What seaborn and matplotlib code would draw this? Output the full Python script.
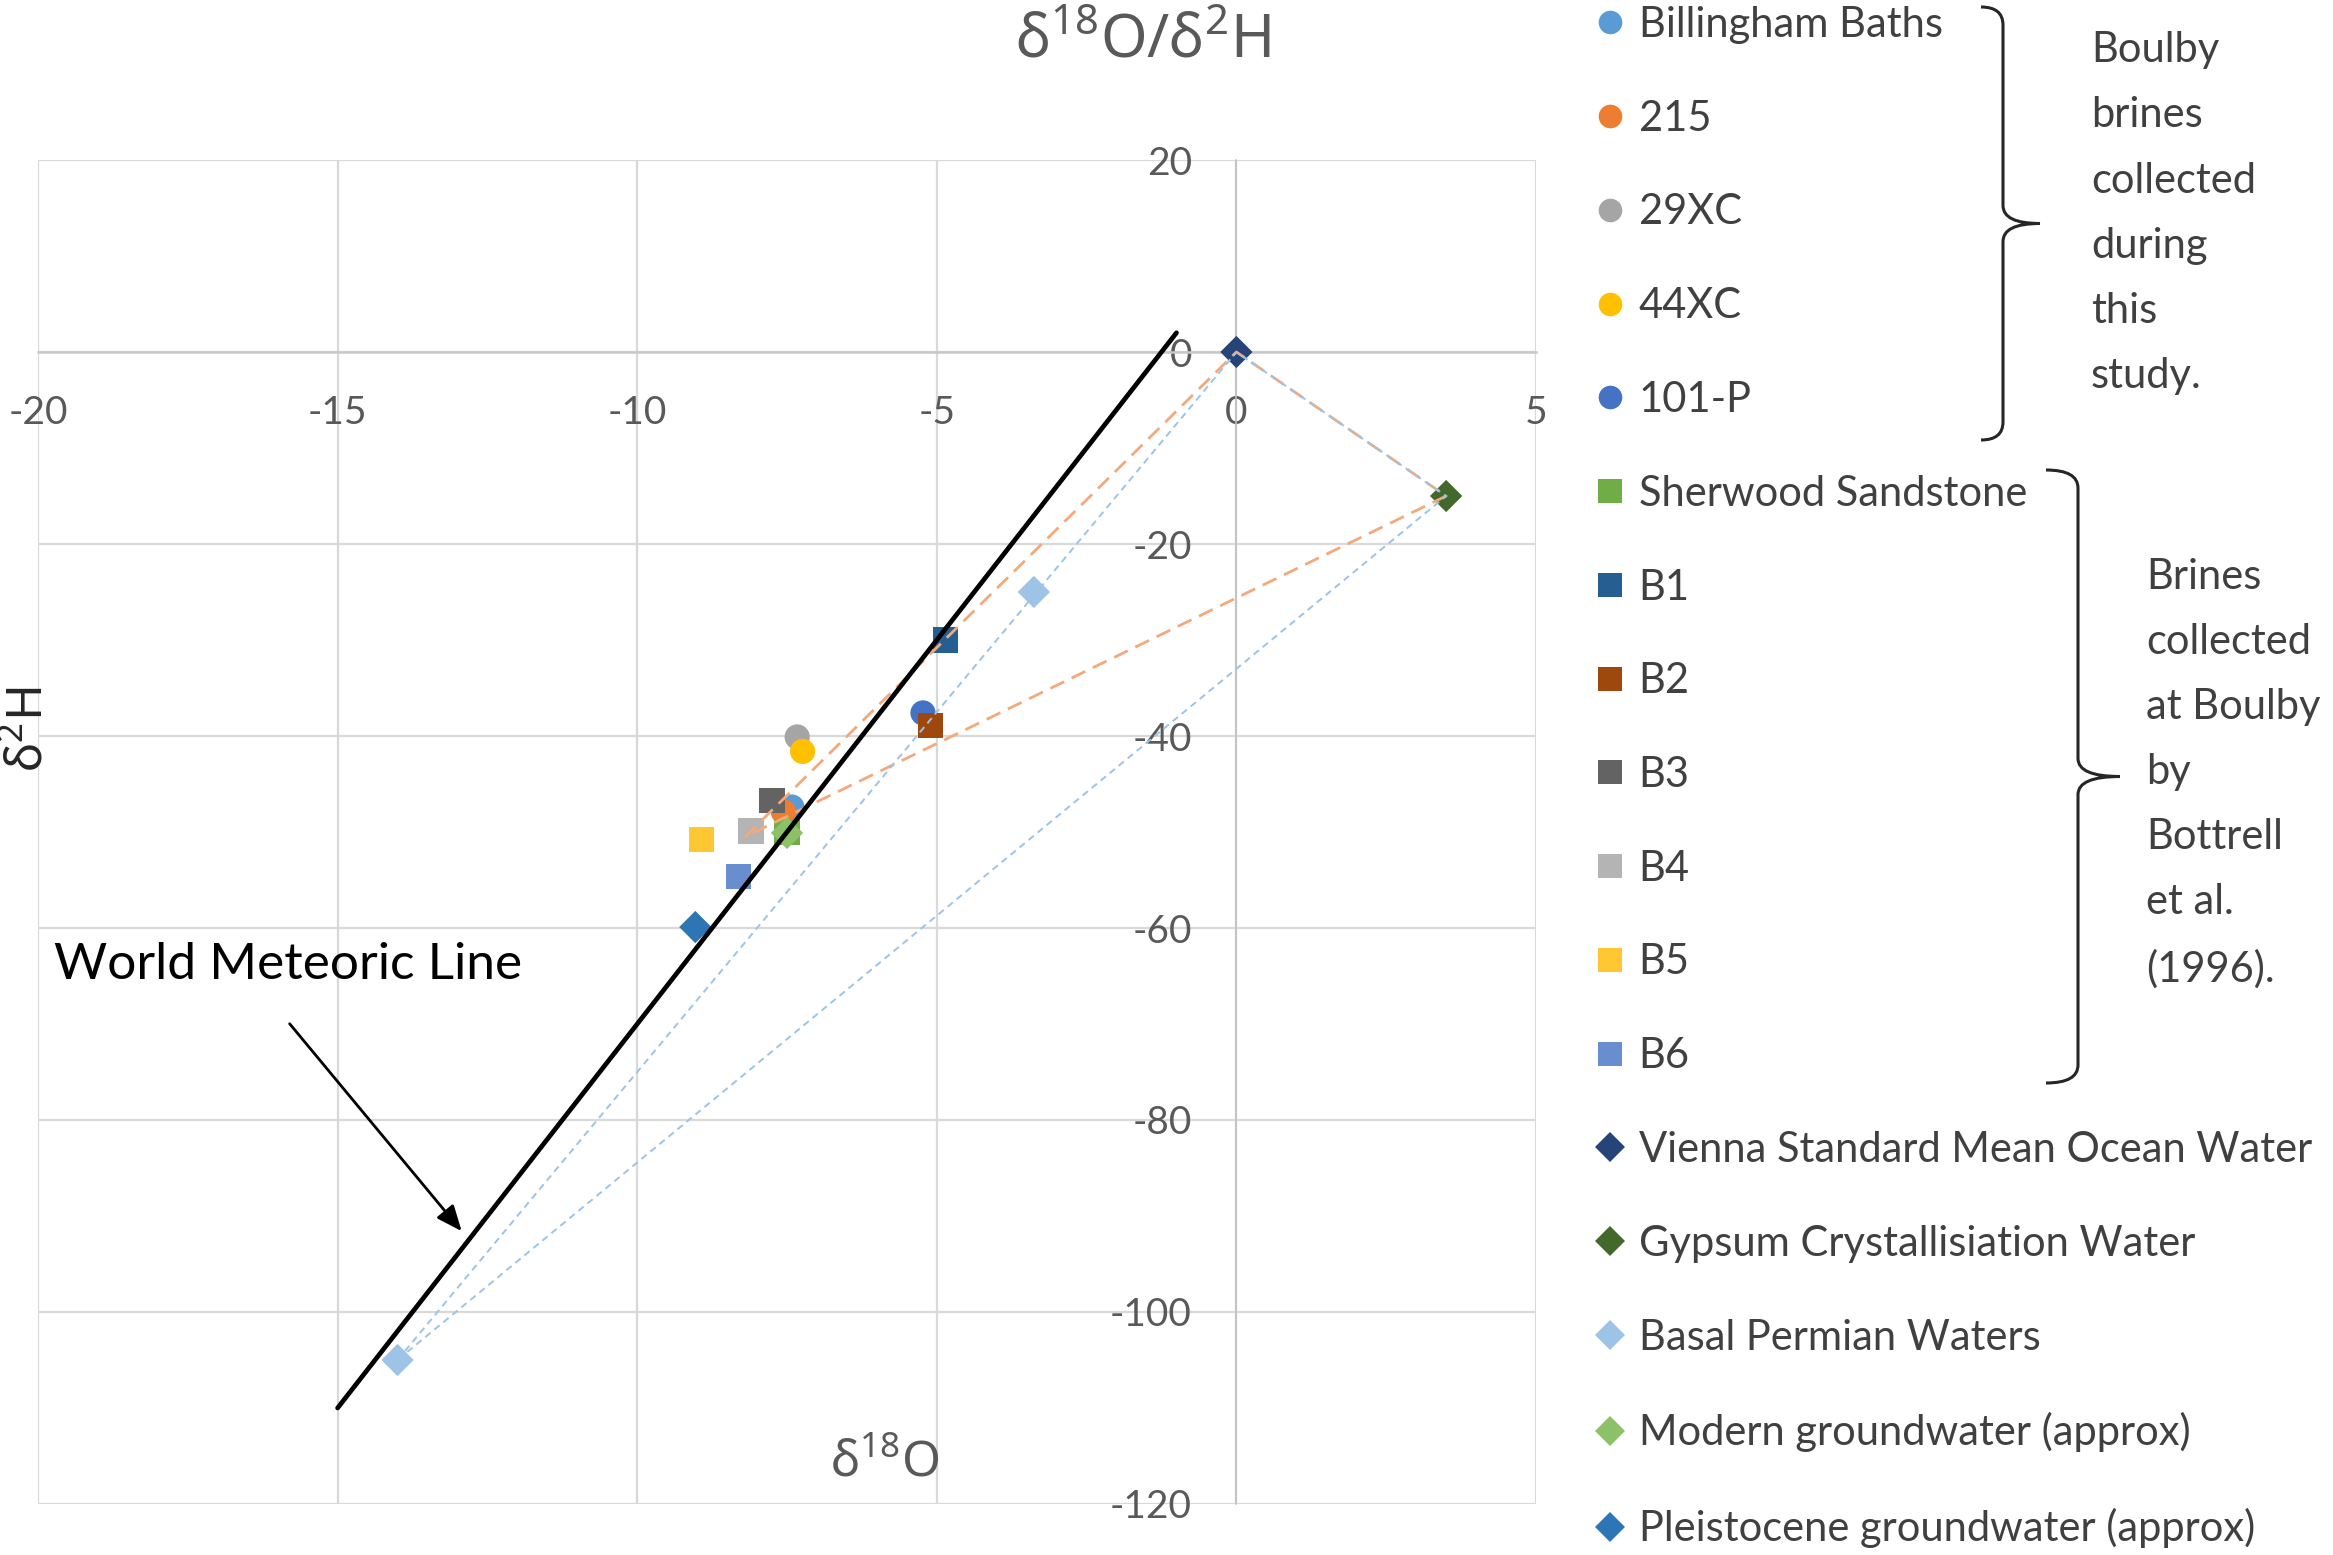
import matplotlib
matplotlib.use("Agg")
import matplotlib.pyplot as plt
import seaborn as sns
from matplotlib.lines import Line2D
from matplotlib.patches import PathPatch
from matplotlib.path import Path

# ---- data (delta18O, delta2H) ----
series_names = [
    "Billingham Baths", "215", "29XC", "44XC", "101-P",
    "Sherwood Sandstone", "B1", "B2", "B3", "B4", "B5", "B6",
    "Vienna Standard Mean Ocean Water", "Gypsum Crystallisiation Water",
    "Basal Permian Waters", "Modern groundwater (approx)",
    "Pleistocene groundwater (approx)",
]
series_d18o = [
    [-7.42], [-7.56], [-7.33], [-7.24], [-5.23],
    [-7.5], [-4.85], [-5.11], [-7.75], [-8.1], [-8.93], [-8.31],
    [0.0], [3.5], [-3.38, -14.0], [-7.5], [-9.03],
]
series_d2h = [
    [-47.4], [-47.9], [-40.1], [-41.6], [-37.6],
    [-50.0], [-30.0], [-38.9], [-46.7], [-49.9], [-50.8], [-54.6],
    [0.0], [-15.0], [-25.0, -105.0], [-50.1], [-59.9],
]
series_colors = [
    "#5B9BD5", "#ED7D31", "#A5A5A5", "#FFC000", "#4472C4",
    "#70AD47", "#255E91", "#9E480E", "#636363", "#B4B4B4", "#FFC832", "#698ED0",
    "#264478", "#43682B", "#9DC3E6", "#8CC168", "#2E75B6",
]
series_markers = ["o"] * 5 + ["s"] * 7 + ["D"] * 5

# world meteoric line end points
wml_d18o = [-15.0, -1.0]
wml_d2h = [-110.0, 2.0]

# mixing triangles
mix_orange_d18o = [-8.2, 0.0, 3.5, -8.2]
mix_orange_d2h = [-50.5, 0.0, -15.0, -50.5]
mix_blue_d18o = [-14.0, 0.0, 3.5, -14.0]
mix_blue_d2h = [-105.0, 0.0, -15.0, -105.0]

x_ticks = [-20, -15, -10, -5, 0, 5]
y_ticks = [-120, -100, -80, -60, -40, -20, 0, 20]

W, H = 2333, 1555
scatter_size = {"o": 330, "s": 330, "D": 270}
legend_size = {"o": 17, "s": 17, "D": 15}

sns.set_theme(style="white")
plt.rcParams["font.family"] = ["Lato", "DejaVu Sans"]
plt.rcParams["axes.unicode_minus"] = False
plt.rcParams["mathtext.default"] = "regular"

fig = plt.figure(figsize=(W / 100, H / 100), dpi=100)
ax = fig.add_axes([38 / W, 51 / H, 1498 / W, 1344 / H])

text_grey = "#595959"
grid_grey = "#D9D9D9"

for name, xs, ys, c, m in zip(series_names, series_d18o, series_d2h,
                              series_colors, series_markers):
    sns.scatterplot(x=xs, y=ys, ax=ax, marker=m, s=scatter_size[m], color=c,
                    edgecolor="none", linewidth=0, zorder=3, legend=False)

sns.lineplot(x=mix_orange_d18o, y=mix_orange_d2h, ax=ax, sort=False,
             estimator=None, color="#F4A97A", lw=2.0, dashes=(5.5, 3),
             zorder=4)
sns.lineplot(x=mix_blue_d18o, y=mix_blue_d2h, ax=ax, sort=False,
             estimator=None, color="#9DC3E6", lw=1.4, dashes=(3.5, 2.5),
             zorder=4)
sns.lineplot(x=wml_d18o, y=wml_d2h, ax=ax, sort=False, estimator=None,
             color="black", lw=3.4, zorder=5)

ax.set_xlim(-20, 5)
ax.set_ylim(-120, 20)
ax.set_xticks(x_ticks)
ax.set_yticks(y_ticks)
ax.grid(True, color=grid_grey, lw=1.6)
ax.set_axisbelow(True)
for side in ["top", "right"]:
    ax.spines[side].set_visible(False)
ax.spines["bottom"].set_position(("data", 0))
ax.spines["left"].set_position(("data", 0))
ax.spines["bottom"].set_color("#C8C8C8")
ax.spines["left"].set_color("#BFBFBF")
ax.spines["bottom"].set_linewidth(1.8)
ax.spines["left"].set_linewidth(1.2)
ax.tick_params(axis="both", length=0, labelsize=28, labelcolor=text_grey)
ax.tick_params(axis="x", pad=31)
ax.tick_params(axis="y", pad=32)

ax.set_xlabel("δ$^{18}$O", fontsize=36, color=text_grey, family="Noto Sans")
ax.xaxis.set_label_coords(0.5654, 0.0305)
ax.xaxis.label.set_va("center")
ax.set_ylabel("δ$^{2}$H", fontsize=36, color="#262626", family="Noto Sans")
ax.yaxis.set_label_coords(-0.006, 0.5766)
ax.yaxis.label.set_va("center")

fig.text(1143 / W, 1 - 42 / H, "δ$^{18}$O/δ$^{2}$H", fontsize=43,
         color=text_grey, family="Noto Sans", ha="center", va="center")

ax.annotate("", xy=(-12.9, -91.8), xytext=(-15.83, -69.75),
            arrowprops=dict(arrowstyle="-|>,head_length=1.3,head_width=0.55",
                            color="black", lw=2), zorder=6)
ax.text(-19.73, -63.9, "World Meteoric Line", fontsize=37, color="black",
        va="center", ha="left", zorder=6)

# legend
handles = [Line2D([], [], ls="none", marker=m, color=c, markeredgewidth=0,
                  markersize=legend_size[m])
           for c, m in zip(series_colors, series_markers)]
fig.legend(handles, series_names, loc="upper left",
           bbox_to_anchor=(1594 / W, 1 - 6 / H), frameon=False,
           fontsize=30, labelcolor="#404040", borderpad=0, borderaxespad=0,
           handlelength=0.75, handletextpad=0.32, labelspacing=1.338)


def draw_brace(x_end, x_stem, x_tip, y_top, y_bot, r=18):
    y_mid = (y_top + y_bot) / 2
    pts = [(x_end, y_top), (x_stem, y_top), (x_stem, y_top + r),
           (x_stem, y_mid - r), (x_stem, y_mid), (x_tip, y_mid),
           (x_stem, y_mid), (x_stem, y_mid + r),
           (x_stem, y_bot - r), (x_stem, y_bot), (x_end, y_bot)]
    codes = [Path.MOVETO, Path.CURVE3, Path.CURVE3, Path.LINETO,
             Path.CURVE3, Path.CURVE3, Path.CURVE3, Path.CURVE3,
             Path.LINETO, Path.CURVE3, Path.CURVE3]
    verts = [(x / W, 1 - y / H) for x, y in pts]
    fig.add_artist(PathPatch(Path(verts, codes), fill=False, lw=2.2,
                             edgecolor="#262626", transform=fig.transFigure))


draw_brace(1981, 2003, 2040, 7, 440)
draw_brace(2046, 2078, 2120, 470, 1083)

fig.text(2091 / W, 1 - 31 / H,
         "Boulby\nbrines\ncollected\nduring\nthis\nstudy.",
         fontsize=30, color="#404040", ha="left", va="top", linespacing=1.88)
fig.text(2146 / W, 1 - 558 / H,
         "Brines\ncollected\nat Boulby\nby\nBottrell\net al.\n(1996).",
         fontsize=30, color="#404040", ha="left", va="top", linespacing=1.87)

fig.savefig("out.png", dpi=100)
